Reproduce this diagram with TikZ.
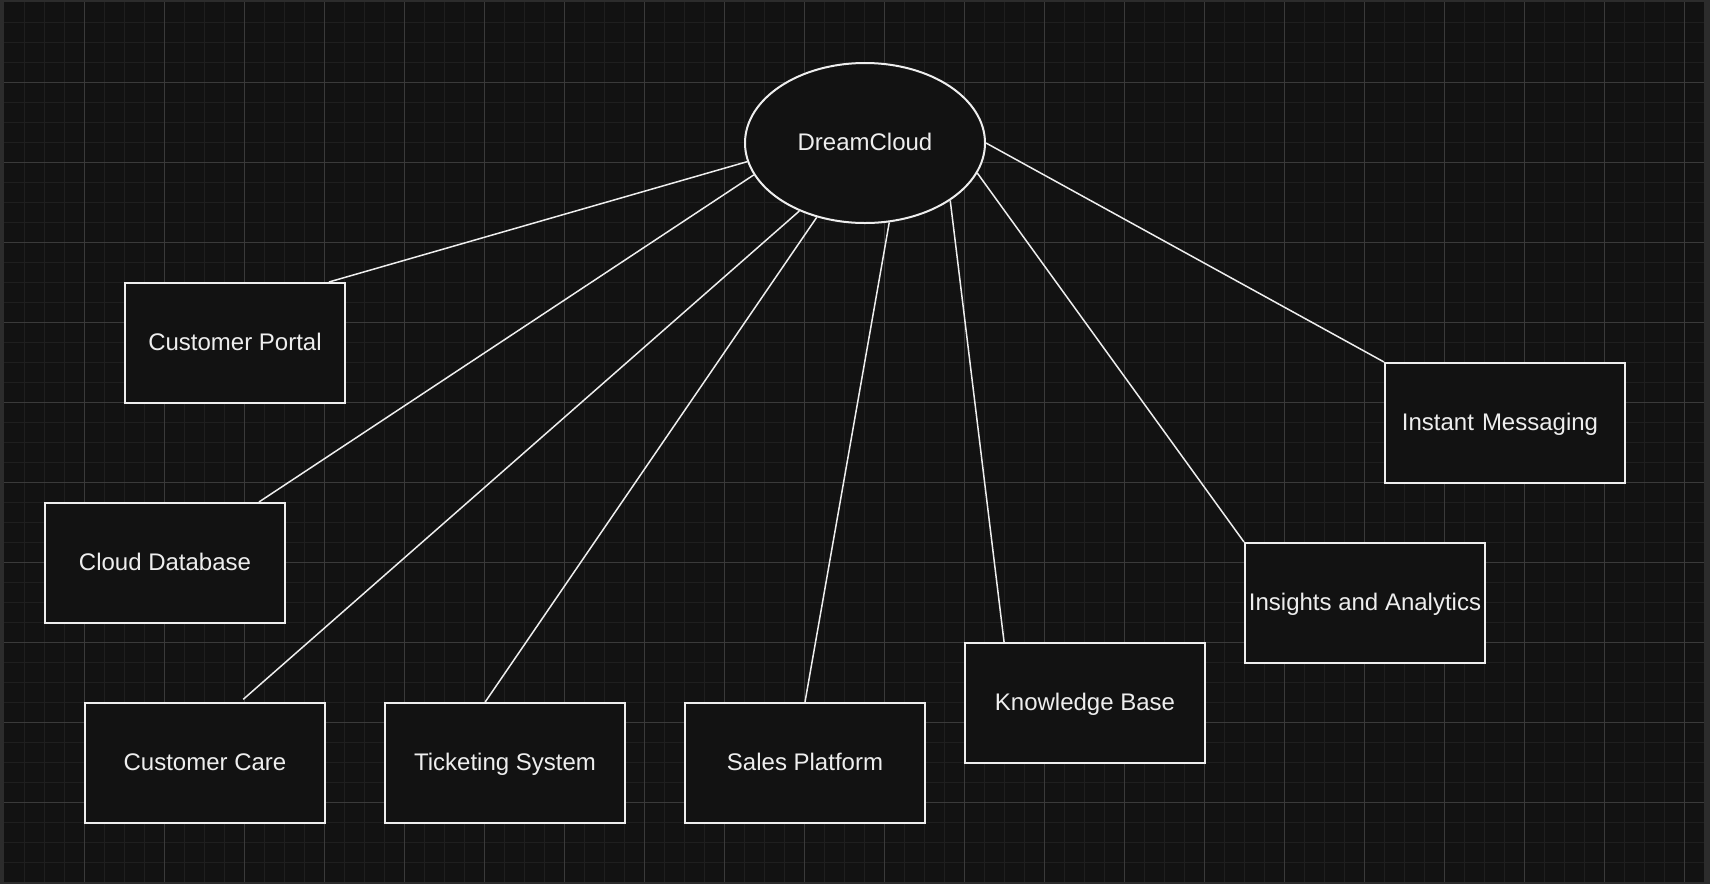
\documentclass[tikz,border=0pt]{standalone}
\usepackage{fontspec}
\setmainfont{Liberation Sans}
\usetikzlibrary{shapes.geometric}

\definecolor{canvas}{HTML}{121212}
\definecolor{frame}{HTML}{2C2C2C}
\definecolor{gridminor}{HTML}{1F1F1F}
\definecolor{gridmajor}{HTML}{3A3A3A}
\definecolor{ink}{HTML}{EEEEEE}

\tikzset{
  box/.style={draw=ink, line width=2pt, fill=canvas, rectangle,
    minimum width=240pt, minimum height=120pt, inner sep=0pt,
    text height=17pt, text depth=1.6pt,
    text=ink, font=\fontsize{24}{28}\selectfont},
  hub/.style={draw=ink, line width=2pt, fill=canvas, ellipse,
    minimum width=240pt, minimum height=160pt, inner sep=0pt,
    text height=17pt, text depth=1.6pt,
    text=ink, font=\fontsize{24}{28}\selectfont},
  link/.style={draw=ink, line width=1.5pt},
  minor/.style={draw=gridminor, line width=1pt},
  major/.style={draw=gridmajor, line width=1pt}
}

\begin{document}
\begin{tikzpicture}[x=1pt, y=-1pt]
    \useasboundingbox (0,0) rectangle (1710,884);

    % Background and frame
    \fill[frame] (0,0) rectangle (1710,884);
    \fill[canvas] (4,2) rectangle (1704,882);

    % Draw grid
    \foreach \gx in {24,44,...,1684} \draw[minor] (\gx,2) -- (\gx,882);
    \foreach \gy in {22,42,...,862} \draw[minor] (4,\gy) -- (1704,\gy);
    \foreach \gx in {84,164,...,1684} \draw[major] (\gx,2) -- (\gx,882);
    \foreach \gy in {82,162,...,802} \draw[major] (4,\gy) -- (1704,\gy);

    % Hub
    \node[hub] (dc) at (865,143) {DreamCloud};

    % Services
    \node[box, minimum width=220pt] (cp) at (235,343) {Customer Portal};
    \node[box] (cdb) at (165,563) {Cloud Database};
    \node[box] (cc) at (205,763) {Customer Care};
    \node[box] (ts) at (505,763) {Ticketing System};
    \node[box] (sp) at (805,763) {Sales Platform};
    \node[box] (kb) at (1085,703) {Knowledge Base};
    \node[box] (ia) at (1365,603) {Insights and Analytics};
    \node[box, text width=230pt, align=center] (im) at (1505,423) {Instant Messaging\hspace*{10pt}};

    % Connections
    \draw[link] (dc.189.5) -- (cp.33.1);
    \draw[link] (dc.196.6) -- (cdb.33.1);
    \draw[link, shorten >=4pt] (dc.226.6) -- (cc.60.5);
    \draw[link] (dc.237.2) -- (ts.108.4);
    \draw[link] (dc.287.4) -- (sp.north);
    \draw[link] (dc.326) -- (kb.143.1);
    \draw[link] (dc.345.5) -- (ia.north west);
    \draw[link] (dc.east) -- (im.north west);
\end{tikzpicture}
\end{document}
